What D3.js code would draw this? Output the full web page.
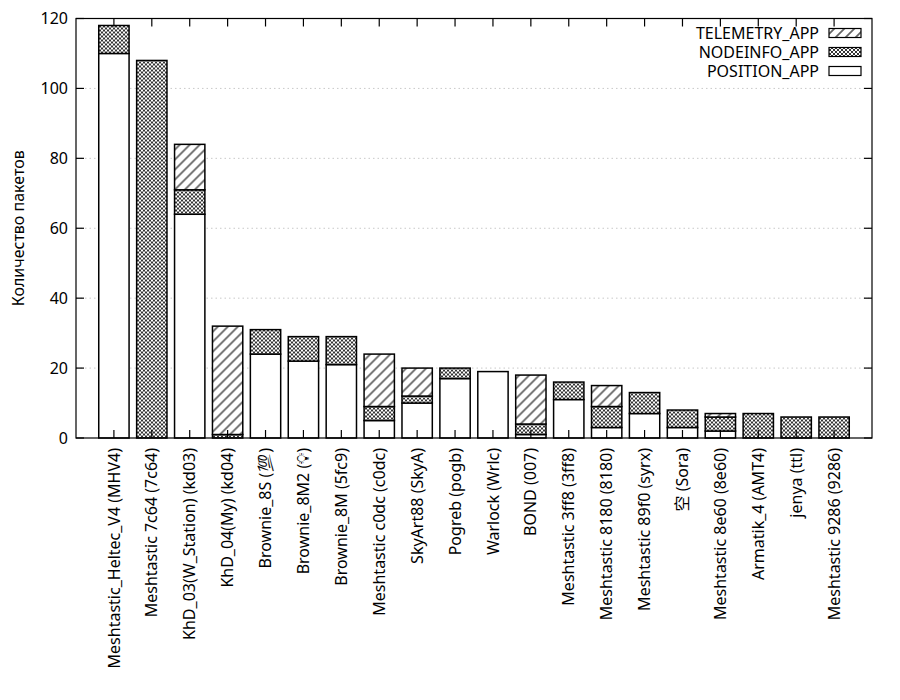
<!DOCTYPE html>
<html>
<head>
<meta charset="utf-8">
<script src="https://cdn.jsdelivr.net/npm/d3@7"></script>
<style>
  body { margin: 0; background: #fff; }
  svg { font-family: "Noto Sans", "Noto Sans CJK SC", "DejaVu Sans", sans-serif; }
</style>
</head>
<body>
<script>
// Nodes (x categories)
var nodes = [
  'Meshtastic_Heltec_V4 (MHV4)',
  'Meshtastic 7c64 (7c64)',
  'KhD_03(W_Station) (kd03)',
  'KhD_04(My) (kd04)',
  'Brownie_8S (\u{1F4AF}\uFE0E)',
  'Brownie_8M2 (\u{1F4A1}\uFE0E)',
  'Brownie_8M (5fc9)',
  'Meshtastic c0dc (c0dc)',
  'SkyArt88 (SkyA)',
  'Pogreb (pogb)',
  'Warlock (Wrlc)',
  'BOND (007)',
  'Meshtastic 3ff8 (3ff8)',
  'Meshtastic 8180 (8180)',
  'Meshtastic 89f0 (syrx)',
  '空 (Sora)',
  'Meshtastic 8e60 (8e60)',
  'Armatik_4 (AMT4)',
  'jenya (ttl)',
  'Meshtastic 9286 (9286)'
];

// Packets per type, same order as nodes
var position  = [110, 0, 64, 0, 24, 22, 21, 5, 10, 17, 19, 1, 11, 3, 7, 3, 2, 0, 0, 0];
var nodeinfo  = [8, 108, 7, 1, 7, 7, 8, 4, 2, 3, 0, 3, 5, 6, 6, 5, 4, 7, 6, 6];
var telemetry = [0, 0, 13, 31, 0, 0, 0, 15, 8, 0, 0, 14, 0, 6, 0, 0, 1, 0, 0, 0];

var seriesKeys = ['POSITION_APP', 'NODEINFO_APP', 'TELEMETRY_APP'];
var yTicks = [0, 20, 40, 60, 80, 100, 120];

var width = 900;
var height = 700;
var margin = { top: 18.5, right: 28, bottom: 262, left: 76 };
var innerWidth = width - margin.left - margin.right;
var innerHeight = height - margin.top - margin.bottom;
var fontSize = 16;

var table = nodes.map(function (name, i) {
  return {
    node: name,
    POSITION_APP: position[i],
    NODEINFO_APP: nodeinfo[i],
    TELEMETRY_APP: telemetry[i]
  };
});

var svg = d3.select('body').append('svg')
  .attr('width', width)
  .attr('height', height);

// Fill patterns
var defs = svg.append('defs');
var hatch = defs.append('pattern')
  .attr('id', 'hatch')
  .attr('patternUnits', 'userSpaceOnUse')
  .attr('width', 10)
  .attr('height', 10);
hatch.append('rect').attr('width', 10).attr('height', 10).attr('fill', '#fff');
hatch.append('path')
  .attr('d', 'M-2,12 L12,-2 M-2,2 L2,-2 M8,12 L12,8')
  .attr('stroke', '#666')
  .attr('stroke-width', 1.8);

var cross = defs.append('pattern')
  .attr('id', 'cross')
  .attr('patternUnits', 'userSpaceOnUse')
  .attr('width', 4)
  .attr('height', 4);
cross.append('rect').attr('width', 4).attr('height', 4).attr('fill', '#fff');
cross.append('path')
  .attr('d', 'M0,0 L4,4 M0,4 L4,0')
  .attr('stroke', '#000')
  .attr('stroke-width', 0.8);

var fills = {
  POSITION_APP: '#fff',
  NODEINFO_APP: 'url(#cross)',
  TELEMETRY_APP: 'url(#hatch)'
};

var g = svg.append('g')
  .attr('transform', 'translate(' + margin.left + ',' + margin.top + ')');

// Scales: categories at 0..19, range -1..20
var x = d3.scaleLinear().domain([-1, nodes.length]).range([0, innerWidth]);
var step = x(1) - x(0);
var barWidth = step * 0.8;
var y = d3.scaleLinear().domain([0, 120]).range([innerHeight, 0]);

// Grid
g.selectAll('.grid')
  .data(yTicks.slice(1, -1))
  .enter()
  .append('line')
  .attr('class', 'grid')
  .attr('x1', 0)
  .attr('x2', innerWidth)
  .attr('y1', function (d) { return y(d); })
  .attr('y2', function (d) { return y(d); })
  .attr('stroke', '#c8c8c8')
  .attr('stroke-width', 1)
  .attr('stroke-dasharray', '1.5,3');

// Bars
var stacked = d3.stack().keys(seriesKeys)(table);
var layers = g.selectAll('.layer')
  .data(stacked)
  .enter()
  .append('g')
  .attr('class', 'layer')
  .attr('fill', function (d) { return fills[d.key]; });

layers.selectAll('rect')
  .data(function (d) { return d.filter(function (s) { return s[1] > s[0]; }); })
  .enter()
  .append('rect')
  .attr('x', function (d) { return x(nodes.indexOf(d.data.node)) - barWidth / 2; })
  .attr('width', barWidth)
  .attr('y', function (d) { return y(d[1]); })
  .attr('height', function (d) { return y(d[0]) - y(d[1]); })
  .attr('stroke', '#000')
  .attr('stroke-width', 1.5);

// Border
g.append('rect')
  .attr('width', innerWidth)
  .attr('height', innerHeight)
  .attr('fill', 'none')
  .attr('stroke', '#000')
  .attr('stroke-width', 1.2);

// Y ticks (left and mirrored right)
var ty = g.selectAll('.ytick')
  .data(yTicks)
  .enter()
  .append('g')
  .attr('class', 'ytick')
  .attr('transform', function (d) { return 'translate(0,' + y(d) + ')'; });
ty.append('line').attr('x1', 0).attr('x2', 8).attr('stroke', '#000').attr('stroke-width', 1.2);
ty.append('line').attr('x1', innerWidth).attr('x2', innerWidth - 8).attr('stroke', '#000').attr('stroke-width', 1.2);
ty.append('text')
  .attr('x', -8)
  .attr('dy', '0.35em')
  .attr('text-anchor', 'end')
  .attr('font-size', fontSize)
  .text(function (d) { return d; });

// X ticks (top and bottom) and labels
var tx = g.selectAll('.xtick')
  .data(nodes)
  .enter()
  .append('g')
  .attr('class', 'xtick')
  .attr('transform', function (d, i) { return 'translate(' + x(i) + ',0)'; });
tx.append('line').attr('y1', 0).attr('y2', 8).attr('stroke', '#000').attr('stroke-width', 1.2);
tx.append('line').attr('y1', innerHeight).attr('y2', innerHeight - 8).attr('stroke', '#000').attr('stroke-width', 1.2);
tx.append('text')
  .attr('transform', 'translate(0,' + (innerHeight + 10) + ') rotate(-90)')
  .attr('dy', '0.35em')
  .attr('text-anchor', 'end')
  .attr('font-size', fontSize)
  .text(function (d) { return d; });

// Y axis title
svg.append('text')
  .attr('transform', 'translate(18,' + (margin.top + innerHeight / 2) + ') rotate(-90)')
  .attr('dy', '0.35em')
  .attr('text-anchor', 'middle')
  .attr('font-size', fontSize)
  .text('Количество пакетов');

// Legend
var legendKeys = seriesKeys.slice().reverse();
var legend = svg.selectAll('.legend')
  .data(legendKeys)
  .enter()
  .append('g')
  .attr('class', 'legend')
  .attr('transform', function (d, i) { return 'translate(0,' + (33 + i * 19) + ')'; });
legend.append('text')
  .attr('x', 819)
  .attr('dy', '0.35em')
  .attr('text-anchor', 'end')
  .attr('font-size', fontSize)
  .text(function (d) { return d; });
legend.append('rect')
  .attr('x', 829)
  .attr('y', -4.5)
  .attr('width', 32)
  .attr('height', 9)
  .attr('fill', function (d) { return fills[d]; })
  .attr('stroke', '#000')
  .attr('stroke-width', 1.2);
</script>
</body>
</html>
